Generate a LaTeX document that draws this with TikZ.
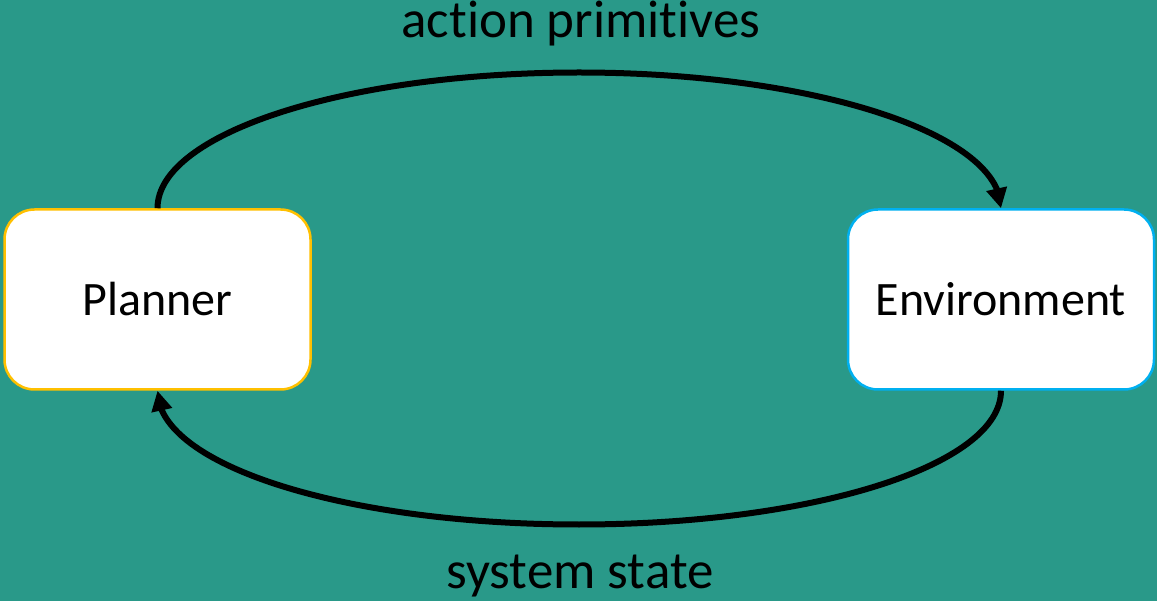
\documentclass[tikz,border=0pt]{standalone}
\usepackage{fontspec}
\setmainfont[Ligatures=NoCommon]{Carlito}
\usetikzlibrary{arrows.meta,bending}

\definecolor{bgteal}{RGB}{41,153,137}
\definecolor{planneredge}{RGB}{255,192,0}
\definecolor{envedge}{RGB}{0,176,240}

\begin{document}
\begin{tikzpicture}[
  x=1pt, y=-1pt,
  box/.style={draw, fill=white, line width=2.5pt, rounded corners=30pt,
    minimum width=306pt, minimum height=180pt, font=\fontsize{48}{58}\selectfont},
  label/.style={anchor=base, inner sep=0pt, font=\fontsize{53}{64}\selectfont},
  flow/.style={line width=6pt, -{Triangle[length=20pt,width=20pt]}}
]
  % canvas
  \fill[bgteal] (0,0) rectangle (1157,601);
  \useasboundingbox (0,0) rectangle (1157,601);

  % the two blocks
  \node[box, draw=planneredge] (pl) at (157.5,299.5) {Planner};
  \node[box, draw=envedge] (en) at (1001,299.5) {Environment};

  % extreme points of the two loops
  \coordinate (apex) at (579,72.5);
  \coordinate (nadir) at (579,524.5);

  % planner -> environment
  \draw[flow] (pl.north) .. controls +(0,-75) and +(-233,0) .. (apex)
    .. controls +(233,0) and +(0,-75) .. (en.north);
  % environment -> planner
  \draw[flow] (en.south) .. controls +(0,75) and +(233,0) .. (nadir)
    .. controls +(-233,0) and +(0,75) .. (pl.south);

  % loop labels
  \node[label] (act) at (581,38) {action primitives};
  \node[label] (sys) at (580,588) {system state};
\end{tikzpicture}
\end{document}
